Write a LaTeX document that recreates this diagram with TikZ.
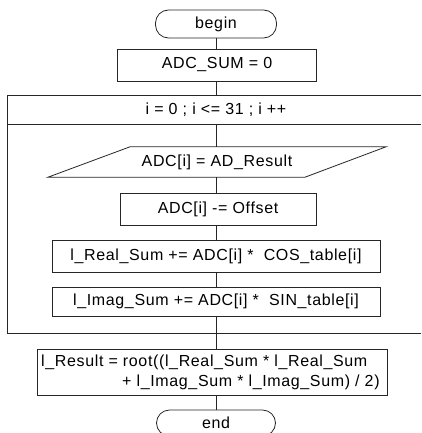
\documentclass[tikz,border=0pt]{standalone}
\usepackage{fontspec}
\setmainfont{Liberation Sans}[LetterSpace=4]
\usetikzlibrary{calc}
\begin{document}
\begin{tikzpicture}[x=1pt,y=-1pt,
  every node/.style={font=\fontsize{16}{19}\selectfont, inner sep=0pt},
  ln/.style={draw=black!85, line width=0.8pt},
  procbox/.style={ln, rectangle, minimum height=32pt},
  termbox/.style={ln, rectangle, rounded corners=13pt, minimum height=28pt}]
\useasboundingbox (0,0) rectangle (421,433);
\clip (0,0) rectangle (421,433);
% nodes
\node[termbox, minimum width=121pt] (begin) at (216,24) {begin};
\node[procbox, minimum width=199pt] (adcsum) at (217,65) {ADC\_SUM = 0};
\node (loophead) at (216,110) {i = 0 ; i <= 31 ; i ++};
\node[minimum width=174pt, minimum height=30pt] (para) at (217,162) {ADC[i] = AD\_Result};
\node[procbox, minimum width=196pt] (offset) at (218,209) {ADC[i] -= Offset};
\node[procbox, minimum width=328pt] (real) at (216,256) {l\_Real\_Sum += ADC[i] *\ \ COS\_table[i]};
\node[procbox, minimum width=328pt, minimum height=29pt] (imag) at (216,301.5) {l\_Imag\_Sum += ADC[i] *\ \ SIN\_table[i]};
\node[procbox, minimum width=350pt, minimum height=46pt] (result) at (212,372) {};
\node[anchor=west] (resl1) at (41,362) {l\_Result = root((l\_Real\_Sum * l\_Real\_Sum};
\node[anchor=west] (resl2) at (122,382) {+ l\_Imag\_Sum * l\_Imag\_Sum) / 2)};
\node[termbox, minimum width=119pt, minimum height=26pt] (end) at (216,423) {end};
% parallelogram outline
\draw[ln] ($(para.north)+(-87,0)$) -- ($(para.north)+(169,0)$)
  -- ($(para.south)+(88,0)$) -- ($(para.south)+(-169,0)$) -- cycle;
% loop frame
\coordinate (ftl) at (7,95);
\coordinate (ftr) at (421,95);
\coordinate (fhl) at (7,124);
\coordinate (fhr) at (421,124);
\coordinate (fbl) at (7,333);
\coordinate (fbr) at (421,333);
\coordinate (ftm) at (216,95);
\coordinate (fhm) at (216,124);
\coordinate (fbm) at (216,333);
\draw[ln] (ftr) -- (ftl) -- (fbl) -- (fbr);
\draw[ln] (fhl) -- (fhr);
% connectors
\draw[ln] (begin.south -| ftm) -- (adcsum.north -| ftm);
\draw[ln] (adcsum.south -| ftm) -- (ftm);
\draw[ln] (fhm) -- (para.north -| fhm);
\draw[ln] (para.south -| fhm) -- (offset.north -| fhm);
\draw[ln] (offset.south -| fhm) -- (real.north -| fhm);
\draw[ln] (real.south -| fhm) -- (imag.north -| fhm);
\draw[ln] (imag.south -| fhm) -- (fbm);
\draw[ln] (fbm) -- (result.north -| fbm);
\draw[ln] (result.south -| fbm) -- (end.north -| fbm);
\end{tikzpicture}
\end{document}
